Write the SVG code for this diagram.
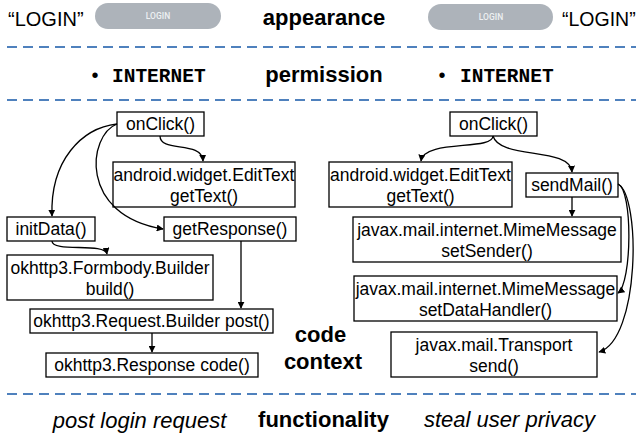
<svg xmlns="http://www.w3.org/2000/svg" width="638" height="439" viewBox="0 0 638 439">
<style>
.bg{fill:#ffffff}
.sep{stroke:#4f81bd;stroke-width:2;stroke-dasharray:10 6;fill:none}
.box{fill:#ffffff;stroke:#000000;stroke-width:1.3}
.t{font-family:"Liberation Sans",Arial,sans-serif;font-size:17.5px;fill:#000000;text-anchor:middle}
.lbl{font-family:"Liberation Sans",Arial,sans-serif;font-size:22px;font-weight:bold;fill:#000000;text-anchor:middle}
.it{font-family:"Liberation Sans",Arial,sans-serif;font-size:22px;font-style:italic;fill:#000000;text-anchor:middle}
.q{font-family:"Liberation Sans",Arial,sans-serif;font-size:20px;fill:#000000}
.mono{font-family:"Liberation Mono","Courier New",monospace;font-size:19.5px;font-weight:bold;fill:#000000}
.bul{font-family:"Liberation Sans",Arial,sans-serif;font-size:20px;fill:#000000;text-anchor:middle}
.btn{fill:#adb3ba}
.btnt{font-family:Roboto,"Liberation Sans",sans-serif;font-size:8.5px;font-weight:500;fill:#eef0f2;text-anchor:middle}
.c{fill:none;stroke:#000000;stroke-width:1.3;marker-end:url(#ah)}
</style>
<defs>
<marker id="ah" viewBox="0 0 10 10" refX="9" refY="5" markerWidth="7" markerHeight="7" markerUnits="userSpaceOnUse" orient="auto">
<path d="M0,0 L10,5 L0,10 z" fill="#000000"/>
</marker>
</defs>
<rect class="bg" x="0" y="0" width="638" height="439"/>

<g id="appearance-row">
<text class="q" x="8" y="26">“LOGIN”</text>
<rect class="btn" x="95" y="3" width="126" height="26" rx="13"/>
<text class="btnt" x="158" y="19">LOGIN</text>
<text class="lbl" x="324" y="25">appearance</text>
<rect class="btn" x="428" y="4" width="125" height="26" rx="13"/>
<text class="btnt" x="491" y="20">LOGIN</text>
<text class="q" x="562" y="26" style="font-size:19.5px">“LOGIN”</text>
</g>

<g id="separators">
<line class="sep" x1="7" y1="47" x2="636" y2="47"/>
<line class="sep" x1="7" y1="100" x2="636" y2="100"/>
<line class="sep" x1="7" y1="394" x2="636" y2="394"/>
</g>

<g id="permission-row">
<text class="bul" x="95" y="82">•</text>
<text class="mono" x="112" y="82">INTERNET</text>
<text class="lbl" x="324" y="82">permission</text>
<text class="bul" x="442" y="82">•</text>
<text class="mono" x="460" y="82">INTERNET</text>
</g>

<g id="n-onclick-l"><rect class="box" x="117" y="112" width="87" height="24"/><text class="t" x="160.5" y="130">onClick()</text></g>
<g id="n-edittext-l"><rect class="box" x="113" y="162" width="182" height="45"/><text class="t" x="204" y="181">android.widget.EditText</text><text class="t" x="204" y="202">getText()</text></g>
<g id="n-initdata"><rect class="box" x="7" y="217" width="88" height="24"/><text class="t" x="51" y="235">initData()</text></g>
<g id="n-getresponse"><rect class="box" x="164" y="217" width="132" height="24"/><text class="t" x="230" y="235">getResponse()</text></g>
<g id="n-formbody"><rect class="box" x="7" y="255" width="206" height="45"/><text class="t" x="110" y="274">okhttp3.Formbody.Builder</text><text class="t" x="110" y="295">build()</text></g>
<g id="n-request"><rect class="box" x="30" y="309" width="243" height="24"/><text class="t" x="151.5" y="327">okhttp3.Request.Builder post()</text></g>
<g id="n-response"><rect class="box" x="46" y="353" width="212" height="24"/><text class="t" x="152" y="371">okhttp3.Response code()</text></g>

<g id="n-onclick-r"><rect class="box" x="450" y="112" width="87" height="24"/><text class="t" x="493.5" y="130">onClick()</text></g>
<g id="n-edittext-r"><rect class="box" x="329" y="162" width="183" height="45"/><text class="t" x="420.5" y="181">android.widget.EditText</text><text class="t" x="420.5" y="202">getText()</text></g>
<g id="n-sendmail"><rect class="box" x="526" y="173" width="92" height="24"/><text class="t" x="572" y="191">sendMail()</text></g>
<g id="n-setsender"><rect class="box" x="353" y="217" width="268" height="45"/><text class="t" x="487" y="236">javax.mail.internet.MimeMessage</text><text class="t" x="487" y="257">setSender()</text></g>
<g id="n-setdatahandler"><rect class="box" x="354" y="276" width="263" height="45"/><text class="t" x="485.5" y="295">javax.mail.internet.MimeMessage</text><text class="t" x="485.5" y="316">setDataHandler()</text></g>
<g id="n-transport"><rect class="box" x="391" y="332" width="206" height="45"/><text class="t" x="494" y="351">javax.mail.Transport</text><text class="t" x="494" y="372">send()</text></g>

<g id="code-context-label">
<text class="lbl" x="320.5" y="342">code</text>
<text class="lbl" x="323" y="369">context</text>
</g>

<g id="connectors">
<path class="c" d="M117,124 C82,128 50,160 52,216"/>
<path class="c" d="M117,124 C88,135 78,215 163,229"/>
<path class="c" d="M160,136 C160,153 202,140 203,161"/>
<path class="c" d="M52,241 C52,253 105,242 107,254"/>
<path class="c" d="M241,241 L241,308"/>
<path class="c" d="M152,333 L152,352"/>
<path class="c" d="M493,136 C493,151 424,139 421,161"/>
<path class="c" d="M493,136 C500,160 570,146 572,172"/>
<path class="c" d="M572,197 L572,216"/>
<path class="c" d="M618,184 C633,190 632,283 618,293"/>
<path class="c" d="M618,184 C641,196 640,340 599,352"/>
</g>

<g id="functionality-row">
<text class="it" x="139.5" y="428">post login request</text>
<text class="lbl" x="323.5" y="427">functionality</text>
<text class="it" x="509.5" y="427">steal user privacy</text>
</g>
</svg>
